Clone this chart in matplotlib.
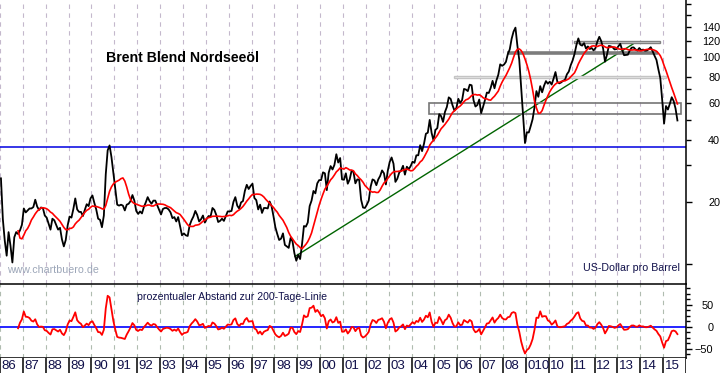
import numpy as np
import pandas as pd
import matplotlib.pyplot as plt
from matplotlib.patches import Rectangle

plt.rcParams['font.family'] = ['Liberation Sans', 'DejaVu Sans']

# Brent, monthly readings (USD per barrel), Jan 1986 .. Aug 2015
p1986 = [26.0, 16.5, 13.0, 11.0, 14.3, 12.3, 10.2, 13.5, 14.3, 14.0, 14.6, 15.5]
p1987 = [18.6, 17.8, 18.2, 18.6, 18.6, 18.9, 20.5, 19.0, 18.3, 18.8, 18.7, 17.2]
p1988 = [16.8, 15.7, 14.7, 16.6, 16.3, 15.5, 14.7, 15.0, 13.2, 12.2, 13.1, 15.4]
p1989 = [17.0, 16.8, 18.5, 20.8, 18.4, 17.9, 17.9, 17.1, 18.3, 19.5, 19.1, 20.8]
p1990 = [21.5, 19.8, 18.4, 16.6, 16.4, 15.1, 17.2, 27.2, 35.5, 37.5, 32.9, 27.6]
p1991 = [23.3, 19.4, 19.2, 19.4, 19.2, 18.2, 19.4, 19.6, 20.2, 21.6, 20.3, 18.1]
p1992 = [17.5, 18.0, 17.6, 18.9, 19.9, 21.1, 20.2, 19.6, 20.3, 20.3, 19.3, 18.3]
p1993 = [17.4, 18.5, 18.7, 18.7, 18.4, 17.8, 16.7, 16.9, 16.1, 16.9, 15.3, 13.8]
p1994 = [14.1, 13.8, 13.7, 15.4, 16.3, 17.0, 18.1, 17.3, 16.1, 16.5, 17.2, 15.9]
p1995 = [16.6, 17.1, 17.0, 18.7, 18.3, 17.3, 16.0, 16.2, 16.6, 16.2, 17.1, 18.0]
p1996 = [18.0, 18.1, 20.0, 21.1, 19.2, 18.6, 19.9, 20.2, 22.6, 24.2, 23.1, 23.9]
p1997 = [24.5, 20.9, 20.4, 18.4, 19.4, 17.7, 18.7, 18.7, 18.6, 20.1, 19.1, 17.1]
p1998 = [15.1, 14.0, 13.1, 13.3, 14.1, 12.4, 12.2, 12.0, 13.4, 12.9, 11.3, 10.4]
p1999 = [11.1, 10.6, 12.5, 15.3, 15.2, 15.9, 19.1, 20.3, 22.6, 22.0, 24.6, 25.5]
p2000 = [25.5, 27.8, 27.5, 22.8, 27.7, 29.8, 28.7, 30.2, 34.0, 31.0, 32.6, 25.7]
p2001 = [25.6, 27.5, 24.5, 25.7, 28.3, 27.9, 24.6, 25.7, 25.6, 20.5, 18.8, 18.7]
p2002 = [19.4, 20.3, 23.7, 25.7, 25.4, 24.1, 25.7, 26.7, 28.4, 27.5, 24.3, 28.3]
p2003 = [31.2, 32.8, 30.6, 25.0, 25.9, 27.7, 28.4, 29.9, 27.1, 29.6, 28.8, 29.8]
p2004 = [31.3, 30.9, 33.6, 33.6, 37.6, 35.2, 38.2, 42.7, 43.2, 49.8, 43.1, 39.6]
p2005 = [44.5, 45.5, 53.1, 51.9, 48.7, 54.4, 57.5, 64.0, 62.9, 58.5, 55.2, 56.9]
p2006 = [63.0, 60.2, 62.1, 70.3, 69.8, 68.6, 73.7, 73.2, 62.0, 57.8, 58.8, 62.5]
p2007 = [53.7, 57.6, 62.1, 67.5, 67.2, 71.1, 76.9, 70.8, 77.2, 82.3, 92.4, 90.9]
p2008 = [92.2, 95.0, 103.6, 109.1, 122.8, 133.0, 139.0, 114.0, 97.2, 71.6, 52.5, 38.5]
p2009 = [43.4, 43.3, 46.5, 50.2, 57.3, 68.6, 64.4, 72.5, 67.7, 72.8, 76.7, 74.5]
p2010 = [76.2, 73.8, 78.8, 84.8, 76.0, 74.8, 75.6, 77.0, 77.8, 82.7, 85.3, 91.5]
p2011 = [96.5, 103.7, 114.6, 123.3, 115.0, 113.8, 117.0, 110.2, 112.8, 109.6, 110.8, 107.9]
p2012 = [110.7, 119.3, 125.5, 119.8, 110.3, 95.2, 102.6, 113.4, 112.9, 111.7, 109.1, 109.5]
p2013 = [113.0, 116.1, 108.5, 102.3, 102.6, 102.9, 107.9, 111.3, 111.6, 109.1, 107.8, 110.8]
p2014 = [108.1, 108.9, 107.5, 107.8, 109.5, 111.8, 106.8, 101.6, 97.1, 87.4, 79.4, 62.3]
p2015 = [47.8, 58.1, 55.9, 59.5, 64.1, 61.5, 56.6, 49.5]

years = list(range(1986, 2016))
year_labels = ['86', '87', '88', '89', '90', '91', '92', '93', '94', '95',
               '96', '97', '98', '99', '00', '01', '02', '03', '04', '05',
               '06', '07', '08', '010', '10', '11', '12', '13', '14', '15']

# drawn lines (year, USD)
support_line = 36.9
trend_start = (1998.90, 10.9)
trend_end = (2013.68, 115.8)
# gray zones: (x0, x1, y0, y1)
zone_top = (2011.10, 2014.86, 117.0, 119.5)
zone_dark = (2008.17, 2014.77, 104.5)
zone_light = (2005.85, 2015.12, 79.3, 81.0)
zone_box = (2004.76, 2015.78, 53.1, 59.9)

price = pd.Series(p1986 + p1987 + p1988 + p1989 + p1990 + p1991 + p1992 + p1993
                  + p1994 + p1995 + p1996 + p1997 + p1998 + p1999 + p2000 + p2001
                  + p2002 + p2003 + p2004 + p2005 + p2006 + p2007 + p2008 + p2009
                  + p2010 + p2011 + p2012 + p2013 + p2014 + p2015)
t = 1986 + (np.arange(len(price)) + 0.5) / 12
ma200 = price.rolling(10).mean()          # ~200 trading days
dist = (price / ma200 - 1) * 100

fig = plt.figure(figsize=(7.23, 3.73), dpi=100)
W, H = 723, 373
ax = fig.add_axes([0, (H - 284) / H, 686 / W, 284 / H])
ax2 = fig.add_axes([0, (H - 358) / H, 686 / W, 74 / H])
ax3 = fig.add_axes([0, 0, 686 / W, 15 / H])

# ---- upper panel
ax.set_yscale('log')
ax.set_xlim(1986, 2016)
ax.set_ylim(8.03, 189)
ax.set_xticks(years)
ax.grid(axis='x', color='#c4b8cc', ls=(0, (4, 4)), lw=0.8)
ax.tick_params(axis='x', length=0, labelbottom=False)

ax.axhline(support_line, color='#0000e0', lw=1.1, zorder=2)
ax.plot([trend_start[0], trend_end[0]], [trend_start[1], trend_end[1]],
        color='#006400', lw=1.0, zorder=3)
ax.add_patch(Rectangle((zone_top[0], zone_top[2]), zone_top[1] - zone_top[0],
                       zone_top[3] - zone_top[2], fc='#dcdcdc', ec='#808080', lw=1.0, zorder=3))
ax.plot([zone_dark[0], zone_dark[1]], [zone_dark[2], zone_dark[2]],
        color='#7c7c7c', lw=2.6, solid_capstyle='butt', zorder=3)
ax.add_patch(Rectangle((zone_light[0], zone_light[2]), zone_light[1] - zone_light[0],
                       zone_light[3] - zone_light[2], fc='#eeeeee', ec='#c4c4c4', lw=1.0, zorder=3))
ax.add_patch(Rectangle((zone_box[0], zone_box[2]), zone_box[1] - zone_box[0],
                       zone_box[3] - zone_box[2], fc='none', ec='#767676', lw=1.2, zorder=3))

ax.plot(t, price, color='black', lw=1.3, zorder=4)
ax.plot(t, ma200, color='#ff0000', lw=1.2, zorder=5)

ax.yaxis.tick_right()
ax.set_yticks([10, 20], labels=['', '20'])
ax.set_yticks([30, 40, 50, 60, 70, 80, 100, 120, 140, 160, 180],
              labels=['', '40', '', '60', '', '80', '100', '120', '140', '', ''], minor=True)
ax.tick_params(axis='y', which='major', length=4.6, width=1, pad=20.0, labelsize=7.8)
ax.tick_params(axis='y', which='minor', length=3.6, width=1, pad=21.0, labelsize=7.8)
for lab in ax.get_yticklabels(which='both'):
    lab.set_horizontalalignment('right')
for s in ['top', 'left', 'bottom']:
    ax.spines[s].set_visible(False)
ax.spines['right'].set_linewidth(1.1)

ax.text(0.266, 0.7975, 'Brent Blend Nordseeöl', transform=ax.transAxes,
        ha='center', va='center', fontsize=10.2, fontweight='bold')
ax.text(0.0102, 0.049, 'www.chartbuero.de', transform=ax.transAxes,
        ha='left', va='center', fontsize=7.7, color='#9ca6b8')
ax.text(0.85, 0.056, 'US-Dollar pro Barrel', transform=ax.transAxes,
        ha='left', va='center', fontsize=7.7, color='#10104a')

# ---- lower panel
ax2.set_xlim(1986, 2016)
ax2.set_ylim(-71, 97)
ax2.set_xticks(years)
ax2.grid(axis='x', color='#b0bcb0', ls=(0, (4, 4)), lw=0.8)
ax2.tick_params(axis='x', length=0, labelbottom=False)
ax2.axhline(0, color='#0000ff', lw=1.2, zorder=2)
ax2.plot(t, dist, color='#ff0000', lw=1.3, zorder=3)
ax2.yaxis.tick_right()
ax2.set_yticks([-50, 0, 50])
ax2.set_yticks([-62.5, -37.5, -25, -12.5, 12.5, 25, 37.5, 62.5, 75, 87.5], minor=True)
ax2.tick_params(axis='y', which='major', length=4.6, width=1, pad=15.0, labelsize=7.8)
ax2.tick_params(axis='y', which='minor', length=3.2, width=1)
for lab in ax2.get_yticklabels():
    lab.set_horizontalalignment('right')
ax2.spines['left'].set_visible(False)
for s in ['top', 'bottom', 'right']:
    ax2.spines[s].set_linewidth(1.1)
ax2.text(0.1997, 0.824, 'prozentualer Abstand zur 200-Tage-Linie', transform=ax2.transAxes,
         ha='left', va='center', fontsize=7.6, color='#10104a')

# ---- year label strip
ax3.set_xlim(1986, 2016)
ax3.set_ylim(0, 1)
ax3.set_xticks(years + [2016])
ax3.grid(axis='x', color='black', lw=1.1)
ax3.tick_params(length=0, labelbottom=False, labelleft=False)
ax3.set_yticks([])
for s in ax3.spines.values():
    s.set_visible(False)
for yr, lab in zip(years, year_labels):
    ax3.text(yr + 0.07, 0.45, lab, ha='left', va='center', fontsize=9.5, color='#10104a')

fig.savefig('out.png', dpi=100)
